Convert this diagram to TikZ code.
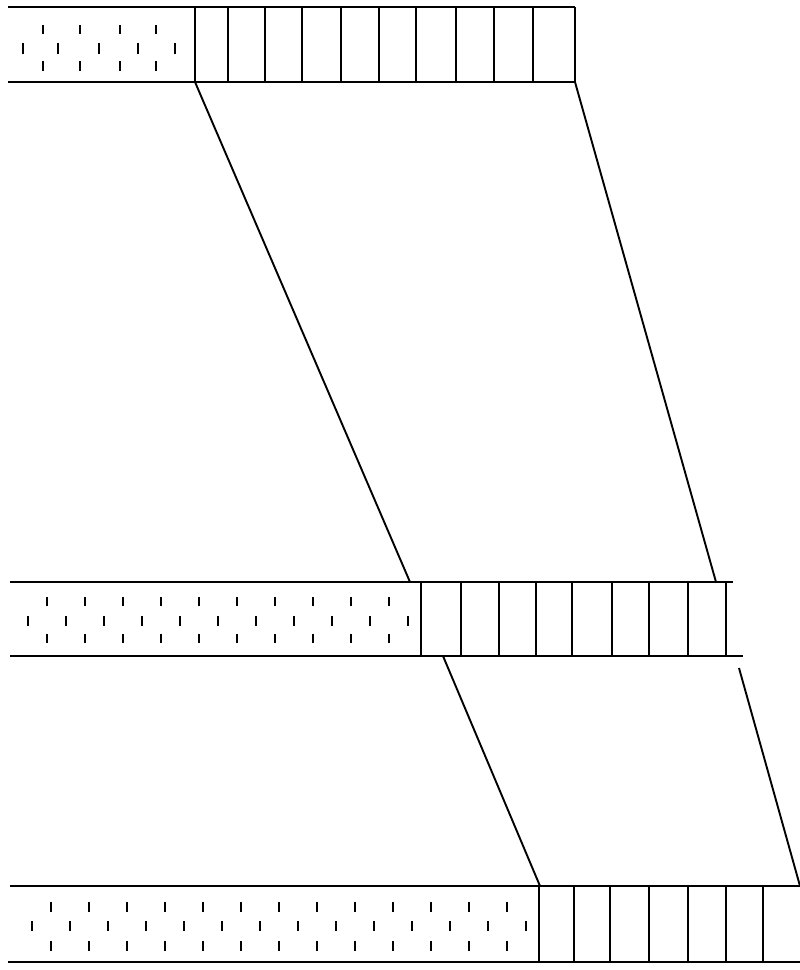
\documentclass[tikz,border=0pt]{standalone}
\usetikzlibrary{positioning}
\usetikzlibrary{calc}

\begin{document}
\begin{tikzpicture}[x=1pt, y=-1pt,
    band/.style={line width=2pt},
    cellwall/.style={line width=2.1pt},
    tick/.style={line width=1.8pt},
    link/.style={line width=1.9pt}]
      \useasboundingbox (0,0) rectangle (800,970);

      % Top strip
      \draw[band] (8,7) -- (575,7);
      \draw[band] (8,82) -- (575,82);
      \foreach \x in {195,228,265,302,341,379,416,456,494,533,575} {
        \draw[cellwall] (\x,7) -- (\x,82);
      }
      \foreach \x in {43,80,120,156} {
        \draw[tick] (\x,25) -- (\x,34);
        \draw[tick] (\x,61) -- (\x,71);
      }
      \foreach \x in {23,58,99,138,175} {
        \draw[tick] (\x,43) -- (\x,54);
      }

      % Middle strip
      \draw[band] (10,582) -- (733,582);
      \draw[band] (10,656) -- (743,656);
      \foreach \x in {421,461,499,536,572,612,649,688,726} {
        \draw[cellwall] (\x,582) -- (\x,656);
      }
      \foreach \k in {0,...,9} {
        \pgfmathsetmacro{\xa}{47+38*\k}
        \draw[tick] (\xa,597) -- (\xa,606);
        \draw[tick] (\xa,634) -- (\xa,643);
      }
      \foreach \k in {0,...,10} {
        \pgfmathsetmacro{\xb}{28+38*\k}
        \draw[tick] (\xb,616) -- (\xb,626);
      }

      % Bottom strip
      \draw[band] (10,886) -- (800,886);
      \draw[band] (8,962) -- (800,962);
      \foreach \x in {539,574,610,649,688,726,763} {
        \draw[cellwall] (\x,886) -- (\x,962);
      }
      \foreach \k in {0,...,12} {
        \pgfmathsetmacro{\xa}{51+38*\k}
        \draw[tick] (\xa,902) -- (\xa,912);
        \draw[tick] (\xa,941) -- (\xa,951);
      }
      \foreach \k in {0,...,13} {
        \pgfmathsetmacro{\xb}{32+38*\k}
        \draw[tick] (\xb,921) -- (\xb,931);
      }

      % Link points
      \coordinate (topL) at (195,82);
      \coordinate (topR) at (575,82);
      \coordinate (midTL) at (410,582);
      \coordinate (midTR) at (716,582);
      \coordinate (midBL) at (443,656);
      \coordinate (midBR) at (739,668);
      \coordinate (botL) at (540,886);
      \coordinate (botR) at (800,886);

      % Connectors
      \draw[link] (topL) -- (midTL);
      \draw[link] (topR) -- (midTR);
      \draw[link] (midBL) -- (botL);
      \draw[link] (midBR) -- (botR);
    \end{tikzpicture}
\end{document}
